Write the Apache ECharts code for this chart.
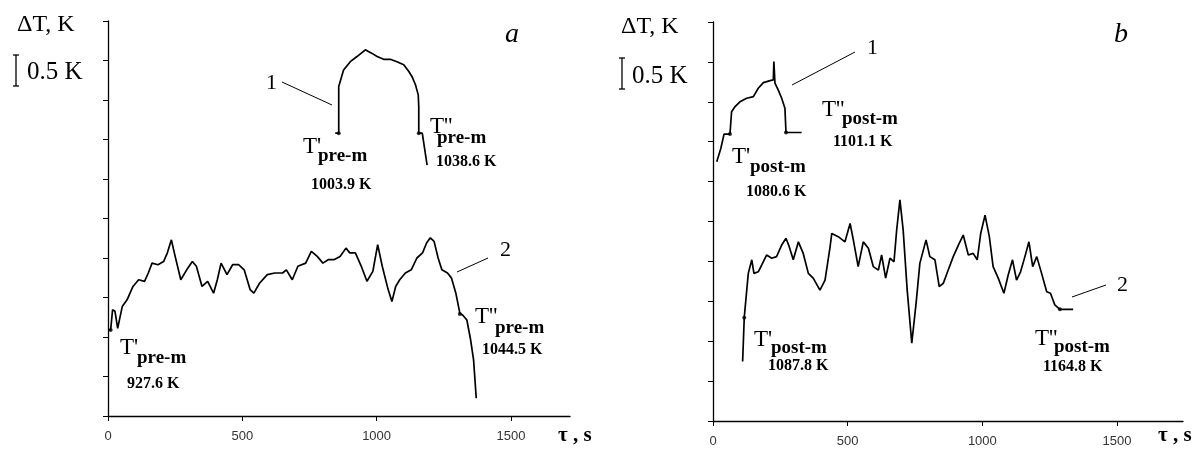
<!DOCTYPE html>
<html>
<head>
<meta charset="utf-8">
<script src="https://cdn.jsdelivr.net/npm/echarts@6/dist/echarts.min.js"></script>
<style>
  html, body { margin: 0; padding: 0; background: #fff; }
  #chart { width: 1195px; height: 450px; }
</style>
</head>
<body>
<div id="chart"></div>
<script>
// time axis tick labels, s
var xTicks = [0, 500, 1000, 1500];
// y values are in axis divisions (10 divisions on the axis, 0.5 K bar ~ 0.8 div)

// panel a, curve 1 (pre-melting, heating)
var a1Time = [846, 859, 859, 877, 902, 927, 958, 983, 1002, 1026, 1051, 1076, 1101, 1120, 1132, 1145, 1155, 1157, 1157, 1170, 1188];
var a1Val  = [7.16, 7.16, 8.34, 8.76, 8.97, 9.10, 9.27, 9.18, 9.10, 9.03, 9.03, 8.97, 8.89, 8.72, 8.59, 8.38, 8.13, 7.83, 7.16, 7.16, 6.35];
// panel a, curve 2
var a2Time = [0, 10, 17, 26, 36, 53, 71, 93, 114, 136, 150, 164, 186, 207, 221, 236, 250, 271, 293, 314, 329, 350, 371, 393, 407, 421, 443, 464, 486, 507, 529, 543, 564, 593, 621, 650, 664, 686, 707, 736, 757, 779, 800, 821, 843, 864, 886, 900, 921, 943, 964, 986, 1004, 1021, 1043, 1057, 1071, 1086, 1107, 1129, 1150, 1171, 1186, 1200, 1214, 1229, 1243, 1264, 1279, 1295, 1310, 1321, 1336, 1350, 1361, 1371];
var a2Val  = [2.18, 2.18, 2.69, 2.65, 2.22, 2.77, 2.94, 3.28, 3.45, 3.41, 3.62, 3.87, 3.83, 3.91, 4.13, 4.46, 4.04, 3.45, 3.70, 3.91, 3.79, 3.28, 3.41, 3.11, 3.45, 3.87, 3.58, 3.83, 3.83, 3.70, 3.20, 3.11, 3.36, 3.58, 3.62, 3.62, 3.70, 3.45, 3.79, 3.87, 4.17, 4.04, 3.87, 3.96, 3.96, 4.04, 4.25, 4.13, 4.13, 3.79, 3.41, 3.66, 4.34, 3.79, 3.20, 2.90, 3.28, 3.45, 3.62, 3.70, 4.00, 4.13, 4.38, 4.51, 4.42, 4.00, 3.70, 3.62, 3.49, 3.11, 2.60, 2.55, 2.43, 1.93, 1.42, 0.45];
var aDotTime = [859, 1157, 10, 1310];
var aDotVal  = [7.16, 7.16, 2.18, 2.58];

// panel b, curve 1 (post-melting)
var b1Time = [14, 29, 41, 63, 69, 82, 100, 125, 150, 168, 187, 212, 224, 226, 230, 242, 255, 267, 271, 329];
var b1Val  = [6.50, 6.83, 7.19, 7.19, 7.75, 7.88, 8.00, 8.09, 8.13, 8.34, 8.48, 8.53, 8.55, 9.01, 8.47, 8.30, 8.09, 7.84, 7.23, 7.23];
// panel b, curve 2
var b2Time = [110, 116, 131, 144, 152, 168, 181, 199, 218, 236, 255, 271, 283, 298, 317, 335, 354, 372, 397, 416, 434, 441, 465, 490, 509, 521, 539, 558, 577, 595, 614, 626, 641, 657, 672, 682, 694, 706, 721, 738, 754, 768, 791, 805, 824, 840, 855, 873, 892, 911, 929, 948, 966, 981, 994, 1010, 1026, 1040, 1059, 1080, 1096, 1112, 1127, 1142, 1158, 1173, 1187, 1202, 1220, 1239, 1253, 1269, 1288, 1337];
var b2Val  = [1.49, 2.59, 3.70, 4.04, 3.70, 3.74, 3.91, 4.16, 4.08, 4.12, 4.41, 4.58, 4.37, 4.04, 4.49, 4.20, 3.70, 3.58, 3.28, 3.53, 4.33, 4.70, 4.62, 4.49, 4.95, 4.54, 3.87, 4.49, 4.33, 3.87, 3.78, 4.16, 3.58, 4.08, 3.99, 4.79, 5.54, 4.79, 3.28, 1.95, 2.95, 3.95, 4.54, 4.12, 4.04, 3.37, 3.45, 3.78, 4.12, 4.41, 4.66, 4.16, 4.20, 4.04, 4.70, 5.16, 4.62, 3.87, 3.58, 3.20, 3.66, 4.04, 3.53, 3.74, 4.12, 4.49, 3.87, 4.12, 3.70, 3.24, 3.20, 2.91, 2.80, 2.80];
var bDotTime = [63, 271, 116, 1288];
var bDotVal  = [7.19, 7.23, 2.59, 2.80];

function pairs(t, v) {
  return t.map(function (x, i) { return [x, v[i]]; });
}

var serif = '"Liberation Serif", "DejaVu Serif", serif';

function txt(x, y, s, size, weight, style) {
  return {
    type: 'text', x: x, y: y,
    style: {
      text: s,
      font: (style || 'normal') + ' ' + (weight || 'normal') + ' ' + size + 'px ' + serif,
      fill: '#000',
      verticalAlign: 'middle'
    }
  };
}
function seg(x1, y1, x2, y2, w) {
  return { type: 'line', shape: { x1: x1, y1: y1, x2: x2, y2: y2 }, style: { stroke: '#000', lineWidth: w || 1 } };
}
function label(x, y, prime, sub, subDx, subDy, value, vx, vy) {
  return [
    txt(x, y, 'T' + prime, 23),
    txt(x + subDx, y + subDy, sub, 19, 'bold'),
    txt(vx, vy, value, 16, 'bold')
  ];
}

function xAxis(idx, max) {
  return {
    type: 'value', gridIndex: idx, min: 0, max: max, interval: 500,
    axisLine: { lineStyle: { color: '#000', width: 1.3 } },
    axisTick: { length: 5, customValues: xTicks, lineStyle: { color: '#000' } },
    axisLabel: {
      customValues: xTicks, color: '#333', fontFamily: '"Liberation Sans", Arial, sans-serif',
      fontSize: 13, margin: 14,
      formatter: function (v) { return String(v); }
    },
    splitLine: { show: false }
  };
}
function yAxis(idx) {
  return {
    type: 'value', gridIndex: idx, min: 0, max: 10, interval: 1,
    axisLine: { show: true, lineStyle: { color: '#000', width: 1.3 } },
    axisTick: { show: true, length: 5, lineStyle: { color: '#000' } },
    axisLabel: { show: false },
    splitLine: { show: false }
  };
}
function curve(idx, t, v) {
  return {
    type: 'line', xAxisIndex: idx, yAxisIndex: idx, data: pairs(t, v),
    showSymbol: false, lineStyle: { color: '#000', width: 1.7 }, silent: true
  };
}
function dots(idx, t, v) {
  return {
    type: 'scatter', xAxisIndex: idx, yAxisIndex: idx, data: pairs(t, v),
    symbolSize: 4, itemStyle: { color: '#000' }, silent: true
  };
}

var graphics = [].concat(
  // panel a
  [txt(17, 25, 'ΔT, K', 24), seg(16, 55, 16, 86, 1.3), seg(13, 55, 19, 55, 1.3), seg(13, 86, 19, 86, 1.3),
   txt(27, 72, '0.5 K', 25), txt(505, 35, 'a', 28, 'normal', 'italic'),
   txt(266, 83, '1', 22), seg(282, 82, 332, 105),
   txt(500, 250, '2', 22), seg(457, 272, 488, 258),
   txt(558, 436, 'τ , s', 21, 'bold')],
  label(303, 147, "'", 'pre-m', 15, 9, '1003.9 K', 311, 185),
  label(430, 127, "''", 'pre-m', 7, 11, '1038.6 K', 436, 162),
  label(120, 348, "'", 'pre-m', 17, 10, '927.6 K', 127, 384),
  label(475, 317, "''", 'pre-m', 20, 11, '1044.5 K', 482, 350),
  // panel b
  [txt(621, 27, 'ΔT, K', 24), seg(622, 58, 622, 89, 1.3), seg(619, 58, 625, 58, 1.3), seg(619, 89, 625, 89, 1.3),
   txt(632, 76, '0.5 K', 25), txt(1114, 35, 'b', 28, 'normal', 'italic'),
   txt(867, 48, '1', 22), seg(792, 85, 855, 52),
   txt(1117, 285, '2', 22), seg(1072, 297, 1106, 285),
   txt(1158, 436, 'τ , s', 21, 'bold')],
  label(822, 110, "''", 'post-m', 20, 9, '1101.1 K', 833, 142),
  label(732, 157, "'", 'post-m', 18, 10, '1080.6 K', 746, 192),
  label(754, 340, "'", 'post-m', 17, 8, '1087.8 K', 768, 366),
  label(1035, 339, "''", 'post-m', 19, 8, '1164.8 K', 1043, 367)
);

var chart = echarts.init(document.getElementById('chart'), null, { renderer: 'canvas' });
chart.setOption({
  animation: false,
  backgroundColor: '#fff',
  grid: [
    { left: 108, top: 21, width: 462, height: 395 },
    { left: 713, top: 22, width: 470, height: 399 }
  ],
  xAxis: [xAxis(0, 1720), xAxis(1, 1745)],
  yAxis: [yAxis(0), yAxis(1)],
  series: [
    curve(0, a1Time, a1Val), curve(0, a2Time, a2Val), dots(0, aDotTime, aDotVal),
    curve(1, b1Time, b1Val), curve(1, b2Time, b2Val), dots(1, bDotTime, bDotVal)
  ],
  graphic: graphics
});
</script>
</body>
</html>
